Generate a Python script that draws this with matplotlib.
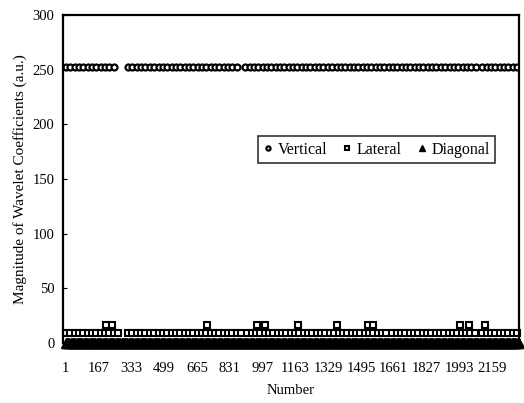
import numpy as np
import matplotlib.pyplot as plt

plt.rcParams['font.family'] = ['Liberation Serif', 'DejaVu Serif']

# sample numbers where each series was recorded (runs of consecutive samples)
vert_runs = [(1, 259), (316, 871), (909, 2087), (2109, 2296)]
vert_level = 252
lat_runs = [(1, 268), (316, 897), (919, 1626), (1653, 2082), (2109, 2296)]
lat_level = 9
lat_peaks = [202, 235, 714, 967, 1009, 1178, 1372, 1530, 1556, 1997, 2039, 2124]
lat_peak_level = 16
diag_run = (1, 2296)
diag_level = 0
xtick_vals = [1, 167, 333, 499, 665, 831, 997, 1163, 1329, 1495, 1661, 1827, 1993, 2159]
step = 22  # marker spacing as it appears on the print


def run_x(runs):
    return np.concatenate([np.arange(a, b + 1, step) for a, b in runs])


xv = run_x(vert_runs)
xl = run_x(lat_runs)
xd = np.arange(diag_run[0], diag_run[1] + 1, 6)

fig = plt.figure(figsize=(5.24, 4.03), dpi=100)
ax = fig.add_axes([0.12, 0.149, 0.871, 0.814])

ax.plot(xv, np.full(len(xv), vert_level), 'o', ms=4.3, mfc='white', mec='black', mew=1.6,
        label='Vertical')
ax.plot(xl, np.full(len(xl), lat_level), 's', ms=4.5, mfc='white', mec='black', mew=1.5,
        label='Lateral', clip_on=False)
ax.plot(lat_peaks, np.full(len(lat_peaks), lat_peak_level), 's', ms=4.5, mfc='white',
        mec='black', mew=1.5)
ax.plot(xd, np.full(len(xd), diag_level), '^', ms=6.5, color='black', label='Diagonal',
        clip_on=False)

ax.set_xlim(-14, 2296)
ax.set_ylim(0, 300)
ax.set_xticks(xtick_vals)
ax.set_yticks(range(0, 301, 50))
ax.tick_params(axis='x', length=0, pad=14, labelsize=10.5)
ax.tick_params(axis='y', direction='in', length=3, labelsize=10.5, pad=6)
for s in ax.spines.values():
    s.set_linewidth(1.6)

ax.set_xlabel('Number', fontsize=10.5, labelpad=6)
ax.set_ylabel('Magnitude of Wavelet Coefficients (a.u.)', fontsize=11)

handles, labels = ax.get_legend_handles_labels()
leg = ax.legend(handles, labels, ncol=3, loc='upper left', borderaxespad=0,
                bbox_to_anchor=(0.428, 0.631), fontsize=11.5, frameon=True, fancybox=False,
                edgecolor='black', handlelength=0.5, handletextpad=0.35, columnspacing=1.0,
                borderpad=0.35, markerscale=0.7)
leg.get_frame().set_linewidth(1.2)

fig.savefig('out.png', dpi=100)
